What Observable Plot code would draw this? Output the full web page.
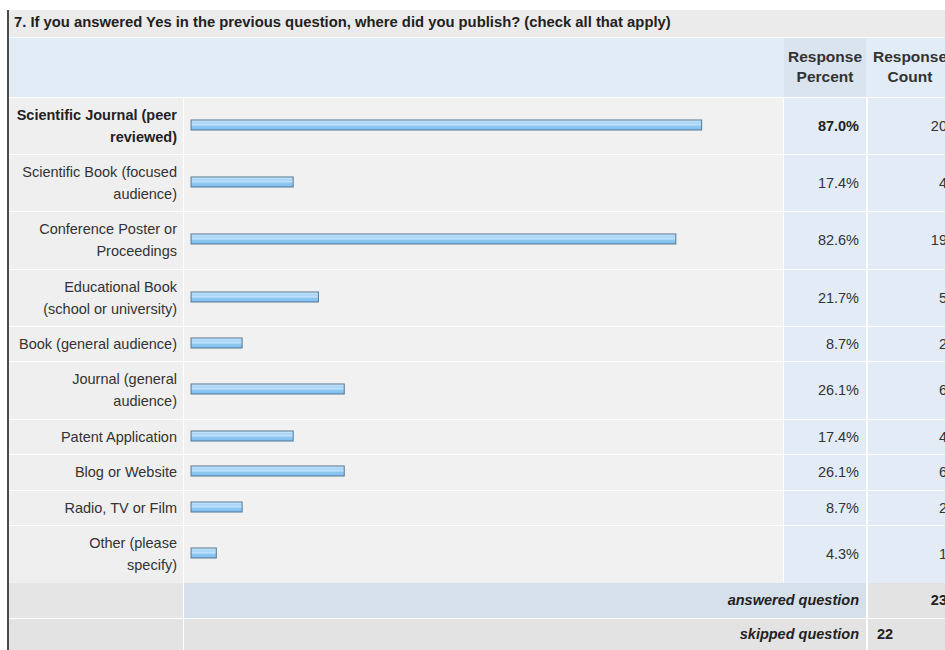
<!DOCTYPE html>
<html>
<head>
<meta charset="utf-8">
<script src="https://cdn.jsdelivr.net/npm/d3@7"></script>
<script src="https://cdn.jsdelivr.net/npm/@observablehq/plot@0.6"></script>
<style>
  html, body { margin: 0; padding: 0; width: 945px; height: 650px; overflow: hidden; background: #fff; }
  body { font-family: "Liberation Sans", Arial, sans-serif; font-size: 14.5px; color: #333; position: relative; }
  .abs { position: absolute; box-sizing: border-box; }
  .lab { text-align: right; padding-right: 6px; line-height: 22px; white-space: pre-line; display: flex; align-items: center; justify-content: flex-end; }
  .num { text-align: right; padding-right: 7px; display: flex; align-items: center; justify-content: flex-end; }
  .plot-cell svg { display: block; }
</style>
</head>
<body>
<div id="root"></div>
<script>
// ---- data ----
const title = "7. If you answered Yes in the previous question, where did you publish? (check all that apply)";
const headerPercent = "Response\nPercent";
const headerCount = "Response\nCount";
const categories = [
  "Scientific Journal (peer\nreviewed)",
  "Scientific Book (focused\naudience)",
  "Conference Poster or\nProceedings",
  "Educational Book\n(school or university)",
  "Book (general audience)",
  "Journal (general\naudience)",
  "Patent Application",
  "Blog or Website",
  "Radio, TV or Film",
  "Other (please\nspecify)"
];
const percents = [87.0, 17.4, 82.6, 21.7, 8.7, 26.1, 17.4, 26.1, 8.7, 4.3];
const counts = [20, 4, 19, 5, 2, 6, 4, 6, 2, 1];
const answeredLabel = "answered question";
const answeredCount = 23;
const skippedLabel = "skipped question";
const skippedCount = 22;

// ---- layout ----
const root = document.getElementById("root");
function box(x, y, w, h, bg, cls) {
  const d = document.createElement("div");
  d.className = "abs" + (cls ? " " + cls : "");
  Object.assign(d.style, {left: x + "px", top: y + "px", width: w + "px", height: h + "px"});
  if (bg) d.style.background = bg;
  root.appendChild(d);
  return d;
}
const colLabel = [9, 174], colBar = [184, 599], colPct = [784, 82], colCnt = [868, 84];

// left border
box(7, 10, 1.6, 640, "#4a4a4a");
// title band
const t = box(9, 10, 936, 27, "#ebebeb");
t.textContent = title;
Object.assign(t.style, {fontWeight: "bold", color: "#222", paddingLeft: "5px", lineHeight: "25px", fontSize: "14.8px", whiteSpace: "nowrap"});
// header row
box(9, 38, 936, 59, "#e2ecf7");
const hp = box(colPct[0], 38, colPct[1], 59, "#d9e4ef");
hp.textContent = headerPercent;
Object.assign(hp.style, {fontWeight: "bold", whiteSpace: "pre-line", textAlign: "center", lineHeight: "20px", paddingTop: "9px", color: "#333", fontSize: "15.5px"});
const hc = box(colCnt[0], 38, colCnt[1], 59, "#e2ecf7");
hc.textContent = headerCount;
Object.assign(hc.style, {fontWeight: "bold", whiteSpace: "pre-line", textAlign: "center", lineHeight: "20px", paddingTop: "9px", color: "#333", fontSize: "15.5px"});

// data rows
let y = 98;
categories.forEach((cat, i) => {
  const lines = cat.split("\n").length;
  const h = lines === 2 ? 57.2 : 35.6;
  const inner = h - 1;
  const bold = i === 0;
  const l = box(colLabel[0], y, colLabel[1], inner, "#efefef", "lab");
  l.textContent = cat;
  if (bold) { l.style.fontWeight = "bold"; l.style.color = "#222"; }
  const bc = box(colBar[0], y, colBar[1], inner, "#f1f1f1", "plot-cell");
  const p = box(colPct[0], y, colPct[1], inner, "#e2ebf6", "num");
  p.textContent = percents[i].toFixed(1) + "%";
  if (bold) { p.style.fontWeight = "bold"; p.style.color = "#222"; }
  const c = box(colCnt[0], y, colCnt[1], inner, "#e2ebf6", "num");
  c.textContent = counts[i];
  c.style.paddingRight = "5px";

  const barH = 10;
  const mt = (inner - barH) / 2 - 1.5;
  const plot = Plot.plot({
    width: colBar[1],
    height: inner,
    marginLeft: 7,
    marginRight: 5,
    marginTop: mt,
    marginBottom: inner - barH - mt,
    style: {background: "transparent", overflow: "visible"},
    x: {domain: [0, 100], axis: null},
    y: {axis: null, padding: 0},
    marks: [
      Plot.barX([{cat, pct: percents[i]}], {x: "pct", y: "cat", fill: `url(#barGrad${i})`, stroke: "#557791", strokeWidth: 1})
    ]
  });
  const svg = d3.select(plot);
  const grad = svg.insert("defs", ":first-child").append("linearGradient")
    .attr("id", `barGrad${i}`).attr("x1", 0).attr("y1", 0).attr("x2", 0).attr("y2", 1);
  [[0, "#d6ecfd"], [0.3, "#a3d2f8"], [0.48, "#c4e3fb"], [0.62, "#8ec8f4"], [1, "#7ebdee"]]
    .forEach(([o, col]) => grad.append("stop").attr("offset", o).attr("stop-color", col));
  bc.appendChild(plot);
  y += h;
});

// answered row
const ay = 582.5, ah = 35;
box(colLabel[0], ay, colLabel[1], ah, "#e5e5e5");
const al = box(colBar[0], ay, colPct[0] + colPct[1] - colBar[0], ah, "#d6e0eb", "num");
al.textContent = answeredLabel;
Object.assign(al.style, {fontWeight: "bold", fontStyle: "italic", color: "#222"});
const ac = box(colCnt[0], ay, colCnt[1], ah, "#e3e3e3", "num");
ac.textContent = answeredCount;
Object.assign(ac.style, {fontWeight: "bold", color: "#222", paddingRight: "5px"});

// skipped row
const sy = 618.5, sh = 40;
box(colLabel[0], sy, colLabel[1], sh, "#e3e3e3");
const sl = box(colBar[0], sy, colPct[0] + colPct[1] - colBar[0], sh, "#e3e3e3", "num");
sl.textContent = skippedLabel;
Object.assign(sl.style, {fontWeight: "bold", fontStyle: "italic", color: "#222", alignItems: "flex-start", paddingTop: "7px"});
const sc = box(colCnt[0], sy, colCnt[1], sh, "#e3e3e3");
sc.textContent = skippedCount;
Object.assign(sc.style, {fontWeight: "bold", color: "#222", paddingLeft: "9px", paddingTop: "7px"});
</script>
</body>
</html>
